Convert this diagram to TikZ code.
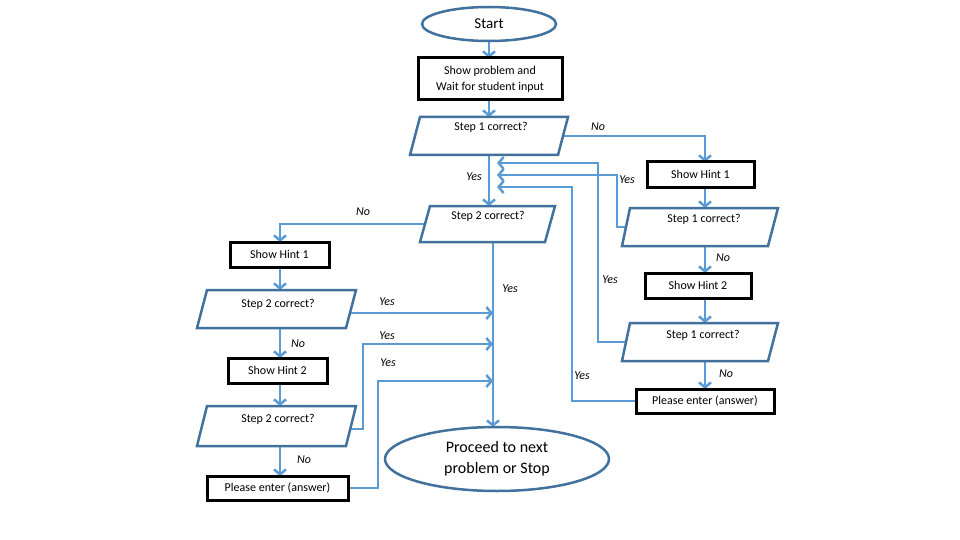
\documentclass[tikz,border=0pt]{standalone}
\usepackage{fontspec}
\setmainfont{Carlito}
\usetikzlibrary{arrows.meta,shapes.geometric}
\definecolor{edge}{HTML}{41719C}
\definecolor{conn}{HTML}{5B9BD5}
\begin{document}
\begin{tikzpicture}[x=1pt,y=-1pt,
  box/.style={draw=black,line width=3pt,fill=white,inner sep=0pt},
  para/.style={draw=edge,line width=2.5pt,fill=white,line join=miter},
  lab/.style={font=\fontsize{12}{14}\selectfont},
  yn/.style={font=\itshape\fontsize{12}{14}\selectfont},
  arr/.style={draw=conn,line width=2.5pt,-{Straight Barb[length=5pt,width=12pt,line width=2.5pt]}},
  ln/.style={draw=conn,line width=2.5pt}]
\path[use as bounding box] (0,0) rectangle (960,540);
% lines first
\coordinate (p1r) at (563,136); \coordinate (p1b) at (489,155);
\coordinate (p2t) at (489,206); \coordinate (p2l) at (425,224); \coordinate (p2b) at (493,242);
\coordinate (p3l) at (626,227); \coordinate (p4l) at (626,342);
\coordinate (p5r) at (351,313); \coordinate (p6r) at (351,429);
\coordinate (m1) at (497,163); \coordinate (m2) at (497,175); \coordinate (m3) at (497,187);
\coordinate (j1) at (493,313); \coordinate (j2) at (493,344); \coordinate (j3) at (493,381);
% right column lines
\draw[arr] (p1r) -| (705,162);
\draw[arr] (p1b) -- (p2t);
\draw[arr] (p3l) -- (617,227) |- (m2);
\draw[arr] (p4l) -- (598,342) |- (m1);
\draw[arr] (636,401) -- (572,401) |- (m3);
\draw[arr] (705,187) -- (705,208);
\draw[arr] (705,246) -- (705,273);
\draw[arr] (705,298) -- (705,323);
\draw[arr] (705,361) -- (705,389);
% left
\draw[arr] (p2l) -| (280,242);
\draw[arr] (p2b) -- (493,427);
\draw[arr] (280,267) -- (280,290);
\draw[arr] (280,328) -- (280,358);
\draw[arr] (280,383) -- (280,406);
\draw[arr] (280,446) -- (280,476);
\draw[arr] (p5r) -- (j1);
\draw[arr] (p6r) -- (363,429) |- (j2);
\draw[arr] (348,488) -- (378,488) |- (j3);
\draw[arr] (489,41) -- (489,58);
\draw[arr] (489,100) -- (489,117);
% shapes
\node[ellipse,draw=edge,line width=2.5pt,fill=white,minimum width=134pt,minimum height=34pt,font=\fontsize{15}{17}\selectfont] (start) at (489,24) {Start};
\node[box,minimum width=144pt,minimum height=42pt,align=center,font=\fontsize{12}{16}\selectfont] (show) at (490,79) {Show problem and\\Wait for student input};
\draw[para] (420,117) -- (568,117) -- (558,155) -- (410,155) -- cycle;
\node[lab] (s1) at (491,127) {Step 1 correct?};
\draw[para] (430,206) -- (555,206) -- (545,242) -- (420,242) -- cycle;
\node[lab] (s2) at (488,216) {Step 2 correct?};
\node[box,minimum width=107pt,minimum height=25pt,lab] (h1r) at (700.5,174.5) {Show Hint 1};
\draw[para] (630,208) -- (778,208) -- (768,246) -- (622,246) -- cycle;
\node[lab] (s1b) at (704,219) {Step 1 correct?};
\node[box,minimum width=106pt,minimum height=25pt,lab] (h2r) at (698,285.5) {Show Hint 2};
\draw[para] (630,323) -- (778,323) -- (768,361) -- (622,361) -- cycle;
\node[lab] (s1c) at (703,335) {Step 1 correct?};
\node[box,minimum width=138pt,minimum height=24pt,lab] (per) at (705,401) {Please enter (answer)};
\node[box,minimum width=99pt,minimum height=25pt,lab] (h1l) at (279.5,254.5) {Show Hint 1};
\draw[para] (207,290) -- (356,290) -- (346,328) -- (197,328) -- cycle;
\node[lab] (s2b) at (278,304) {Step 2 correct?};
\node[box,minimum width=99pt,minimum height=25pt,lab] (h2l) at (277.5,370.5) {Show Hint 2};
\draw[para] (207,406) -- (356,406) -- (346,446) -- (197,446) -- cycle;
\node[lab] (s2c) at (278,419) {Step 2 correct?};
\node[box,minimum width=141pt,minimum height=24pt,lab] (pel) at (277.5,488) {Please enter (answer)};
\node[ellipse,draw=edge,line width=2.5pt,fill=white,minimum width=224pt,minimum height=64pt,align=center,font=\fontsize{16}{21}\selectfont] (proc) at (497,459) {Proceed to next\\problem or Stop};
% labels
\node[yn] at (598,127) {No};
\node[yn] at (474,177) {Yes};
\node[yn] at (627,180) {Yes};
\node[yn] at (363,212) {No};
\node[yn] at (723,258) {No};
\node[yn] at (510,289) {Yes};
\node[yn] at (610,280) {Yes};
\node[yn] at (387,302) {Yes};
\node[yn] at (387,336) {Yes};
\node[yn] at (298,344) {No};
\node[yn] at (388,363) {Yes};
\node[yn] at (582,376) {Yes};
\node[yn] at (726,374) {No};
\node[yn] at (304,460) {No};
\end{tikzpicture}
\end{document}
